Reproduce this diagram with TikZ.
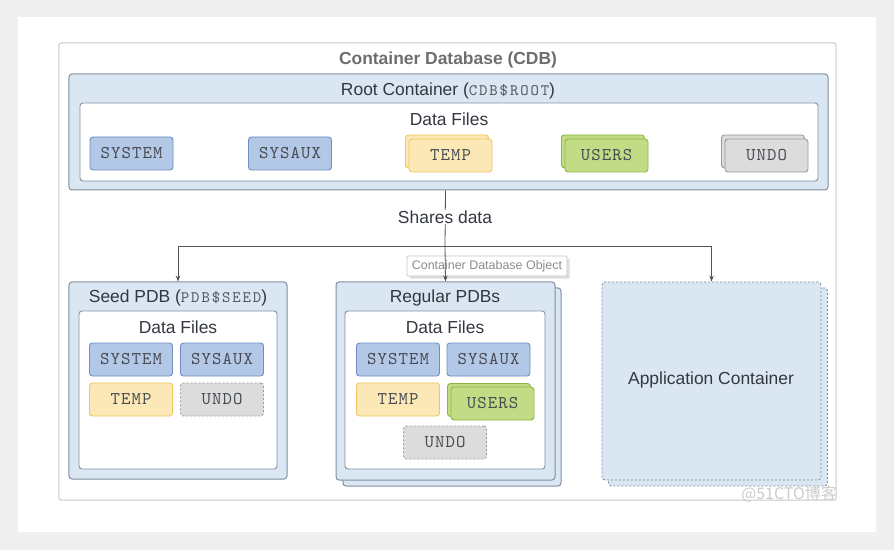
\documentclass[tikz,border=0pt]{standalone}
\usepackage{fontspec}
\setmainfont{Liberation Sans}
\newfontfamily\cjkfont{Noto Sans CJK SC}
\newfontfamily\boxmono{lmmono10-regular.otf}[LetterSpace=6]
\newfontfamily\ttlmono{lmmono10-regular.otf}[LetterSpace=12]
\usetikzlibrary{arrows.meta,shadows}
\definecolor{bgc}{HTML}{EEEEEE}
\definecolor{cdbline}{HTML}{C8C8C8}
\definecolor{contfill}{HTML}{DAE6F2}
\definecolor{contline}{HTML}{7F90A2}
\definecolor{sysfill}{HTML}{B3C7E6}
\definecolor{sysline}{HTML}{6E8FC0}
\definecolor{tmpfill}{HTML}{FCE8B6}
\definecolor{tmpline}{HTML}{F0C65E}
\definecolor{usrfill}{HTML}{C2DC86}
\definecolor{usrline}{HTML}{8DB840}
\definecolor{undfill}{HTML}{DCDCDC}
\definecolor{undline}{HTML}{9A9A9A}
\definecolor{txt}{HTML}{333840}
\definecolor{ttl}{HTML}{6E6E6E}
\definecolor{arrc}{HTML}{555555}
\newcommand\monott[1]{{\fontsize{16}{18}\ttlmono\color{txt!85}#1}}
\tikzset{
  sans/.style={font=\fontsize{17.5}{20}\selectfont, text=txt},
  cont/.style={draw=contline, fill=contfill, rounded corners=3bp, line width=1bp},
  inner/.style={draw=contline, fill=white, rounded corners=3bp, line width=0.9bp},
  fbox/.style={rounded corners=3bp, line width=0.9bp, minimum width=83bp, minimum height=33bp, inner sep=0pt,
     font=\fontsize{18}{20}\boxmono, text=txt!90},
  sysb/.style={fbox, draw=sysline, fill=sysfill},
  tmpb/.style={fbox, draw=tmpline, fill=tmpfill},
  usrb/.style={fbox, draw=usrline, fill=usrfill},
  undb/.style={fbox, draw=undline, fill=undfill},
  undd/.style={fbox, draw=undline, fill=undfill, dash pattern=on 2bp off 2bp},
  arr/.style={draw=arrc, line width=0.8bp, -{Stealth[length=6bp,width=4.5bp]}},
  ln/.style={draw=arrc, line width=0.8bp},
}
\begin{document}
\begin{tikzpicture}[x=1bp,y=-1bp]
% background and card
\fill[bgc] (0,0) rectangle (894,550);
\fill[black!6] (16,15) rectangle (879,536);
\fill[white] (18,17) rectangle (876,532);
\useasboundingbox (0,0) rectangle (894,550);

% CDB frame
\node[draw=cdbline, fill=white, line width=1bp, rounded corners=2bp, minimum width=777bp, minimum height=457bp, inner sep=0pt] (cdb) at (447.5,271.5) {};
\node[font=\fontsize{17.5}{20}\selectfont\bfseries, text=ttl] (cdbt) at (448,60) {Container Database (CDB)};

% Root container
\node[cont, minimum width=759bp, minimum height=116bp, inner sep=0pt] (root) at (448.5,132) {};
\node[sans] (roott) at (448,91) {Root Container (\monott{CDB\$ROOT})};
\node[inner, minimum width=738bp, minimum height=78bp, inner sep=0pt] (rdf) at (449,142) {};
\node[sans] (rdft) at (449,119) {Data Files};
\node[sysb] (rsys) at (131.5,153.5) {SYSTEM};
\node[sysb] (rsysx) at (290,153.5) {SYSAUX};
\node[tmpb] (rtmpb) at (447,151.5) {};
\node[tmpb] (rtmp) at (450.5,155.5) {TEMP};
\node[usrb] (rusrb) at (603,151.5) {};
\node[usrb] (rusr) at (606.5,155.5) {USERS};
\node[undb] (rundb) at (763,151.5) {};
\node[undb] (rund) at (766.5,155.5) {UNDO};

% tooltip
\node[draw=black!22, fill=white, line width=0.8bp, rounded corners=1bp, minimum width=160bp, minimum height=20bp, inner sep=0pt,
      font=\fontsize{12.5}{14}\selectfont, text=black!45, drop shadow={opacity=0.25}] (tip) at (487,266) {Container Database Object};

% Seed PDB
\node[cont, minimum width=218bp, minimum height=197bp, inner sep=0pt] (seed) at (178,380.5) {};
\node[sans] (seedt) at (178,298) {Seed PDB (\monott{PDB\$SEED})};
\node[inner, minimum width=198bp, minimum height=158bp, inner sep=0pt] (sdf) at (178,390) {};
\node[sans] (sdft) at (178,327) {Data Files};
\node[sysb] (ssys) at (131,359.5) {SYSTEM};
\node[sysb] (ssysx) at (222,359.5) {SYSAUX};
\node[tmpb] (stmp) at (131,399.5) {TEMP};
\node[undd] (sund) at (222,399.5) {UNDO};

% Regular PDBs
\node[cont, minimum width=218bp, minimum height=198bp, inner sep=0pt] (regb) at (452,387) {};
\node[cont, minimum width=219bp, minimum height=198bp, inner sep=0pt] (reg) at (445.5,381) {};
\node[sans] (regt) at (445,298) {Regular PDBs};
\node[inner, minimum width=200bp, minimum height=158bp, inner sep=0pt] (rgdf) at (445,390) {};
\node[sans] (rgdft) at (445,327) {Data Files};
\node[sysb] (gsys) at (398,359.5) {SYSTEM};
\node[sysb] (gsysx) at (488.5,359.5) {SYSAUX};
\node[tmpb] (gtmp) at (398,399.5) {TEMP};
\node[usrb] (gusrb) at (489,400) {};
\node[usrb] (gusr) at (492.5,403.5) {USERS};
\node[undd] (gund) at (445,442.5) {UNDO};

% Application container
\node[cont, dash pattern=on 2bp off 2bp, line width=0.9bp, minimum width=219bp, minimum height=198bp, inner sep=0pt] (appb) at (718,387) {};
\node[cont, dash pattern=on 2bp off 2bp, line width=0.9bp, minimum width=219bp, minimum height=198bp, inner sep=0pt] (app) at (711.5,381) {};
\node[sans] (appt) at (711,380) {Application Container};

% connectors
\coordinate (jj) at (445,246);
\draw[ln] (root.south -| reg.north) -- (jj);
\draw[arr] (jj) -- (reg.north);
\draw[arr] (jj) -| (seed.north);
\draw[arr] (jj) -| (app.north);
\node[sans, fill=white, inner sep=1bp] (share) at (445,217) {Shares data};

% watermark
\node[font=\fontsize{16}{18}\cjkfont, text=black!20] (wm) at (789,494) {@51CTO博客};
\end{tikzpicture}
\end{document}
